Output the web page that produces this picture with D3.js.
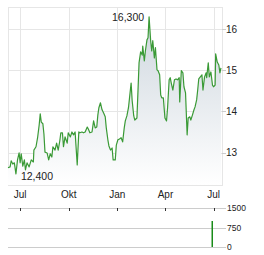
<!DOCTYPE html>
<html>
<head>
<meta charset="utf-8">
<script src="https://cdn.jsdelivr.net/npm/d3@7"></script>
<style>
  body { margin: 0; background: #fff; }
  text { font-family: "Liberation Sans", Arial, sans-serif; fill: #222; }
</style>
</head>
<body>
<div id="chart-area"></div>
<script>
// price series
const dates = [
  "2023-06-08","2023-06-12","2023-06-14","2023-06-17","2023-06-20","2023-06-23","2023-06-26","2023-06-29",
  "2023-07-01","2023-07-03","2023-07-06","2023-07-09","2023-07-11","2023-07-14","2023-07-18","2023-07-22",
  "2023-07-26","2023-07-27","2023-07-31","2023-08-03","2023-08-06","2023-08-08","2023-08-10","2023-08-13",
  "2023-08-15","2023-08-17","2023-08-21","2023-08-24","2023-08-27","2023-08-30","2023-09-01","2023-09-05",
  "2023-09-08","2023-09-11","2023-09-14","2023-09-16","2023-09-19","2023-09-21","2023-09-24","2023-09-28",
  "2023-09-30","2023-10-04","2023-10-07","2023-10-10","2023-10-13","2023-10-17","2023-10-20","2023-10-22",
  "2023-10-26","2023-10-29","2023-11-01","2023-11-05","2023-11-07","2023-11-10","2023-11-14","2023-11-17",
  "2023-11-20","2023-11-23","2023-11-25","2023-11-27","2023-11-30","2023-12-03","2023-12-06","2023-12-09",
  "2023-12-11","2023-12-14","2023-12-16","2023-12-19","2023-12-22","2023-12-24","2023-12-28","2023-12-30",
  "2024-01-02","2024-01-05","2024-01-08","2024-01-11","2024-01-14","2024-01-16","2024-01-19","2024-01-22",
  "2024-01-24","2024-01-27","2024-01-29","2024-02-01","2024-02-03","2024-02-07","2024-02-09","2024-02-11",
  "2024-02-14","2024-02-17","2024-02-18","2024-02-21","2024-02-23","2024-02-26","2024-02-28","2024-03-01",
  "2024-03-04","2024-03-06","2024-03-08","2024-03-11","2024-03-13","2024-03-16","2024-03-18","2024-03-21",
  "2024-03-23","2024-03-25","2024-03-28","2024-03-31","2024-04-03","2024-04-05","2024-04-08","2024-04-10",
  "2024-04-12","2024-04-15","2024-04-18","2024-04-21","2024-04-24","2024-04-27","2024-04-28","2024-05-01",
  "2024-05-04","2024-05-06","2024-05-09","2024-05-12","2024-05-14","2024-05-17","2024-05-19","2024-05-22",
  "2024-05-25","2024-05-27","2024-05-30","2024-06-01","2024-06-03","2024-06-06","2024-06-09","2024-06-11",
  "2024-06-14","2024-06-17","2024-06-18","2024-06-21","2024-06-23","2024-06-26","2024-06-29","2024-07-01",
  "2024-07-04","2024-07-05","2024-07-08","2024-07-11","2024-07-13","2024-07-15"
];
const prices = [
  12.63,12.65,12.80,12.72,12.75,12.48,12.82,12.99,
  12.75,12.97,12.67,12.82,12.58,12.75,12.65,12.82,
  12.77,13.06,13.14,13.36,13.67,13.94,13.74,13.70,
  13.45,13.01,12.99,12.82,12.97,12.89,13.14,13.06,
  13.23,13.06,13.28,13.48,13.48,13.14,13.38,13.23,
  13.48,13.38,13.50,13.43,13.50,12.70,13.50,13.48,
  13.50,13.48,13.50,13.62,13.57,13.48,13.50,13.77,
  13.60,13.62,13.91,14.09,14.21,14.04,13.96,13.87,
  13.60,13.31,13.16,13.06,13.11,12.82,12.82,13.18,
  13.31,13.33,13.36,13.26,13.60,13.77,13.89,14.09,
  14.33,14.69,14.26,13.89,13.79,13.84,14.50,15.18,
  15.45,15.37,15.59,15.23,15.47,15.74,15.79,16.30,
  15.72,15.47,15.72,15.30,15.55,15.01,14.99,14.89,
  14.40,14.33,14.33,13.84,13.77,14.09,14.77,14.82,
  14.69,14.52,14.77,14.79,14.77,14.82,14.23,14.99,
  14.94,14.60,14.45,13.43,13.84,13.87,13.79,13.91,
  14.04,14.11,14.28,14.52,14.79,14.84,14.89,14.52,
  14.84,14.94,14.82,15.18,14.84,14.96,14.64,14.60,
  14.64,15.40,15.20,15.13,14.94,15.06
];
const highLabel = "16,300";
const lowLabel = "12,400";

// volume panel
const volumeDates = ["2024-06-28"];
const volumeValues = [1000];
const volumeTicks = [0, 750, 1500];

// axis ticks
const monthTicks = ["2023-07-01", "2023-10-01", "2024-01-01", "2024-04-01", "2024-07-01"];
const monthLabels = ["Jul", "Okt", "Jan", "Apr", "Jul"];
const priceTicks = [13, 14, 15, 16];

const parse = d3.timeParse("%Y-%m-%d");
const data = dates.map((d, i) => ({ date: parse(d), value: prices[i] }));
const vol = volumeDates.map((d, i) => ({ date: parse(d), value: volumeValues[i] }));

const W = 264, H = 255;
const plot = { left: 8, right: 222, top: 7, bottom: 185 };
const vPlot = { top: 208, bottom: 247 };

const svg = d3.select("#chart-area")
  .append("svg")
  .attr("width", W)
  .attr("height", H);

const x = d3.scaleTime()
  .domain([parse("2023-06-08"), parse("2024-07-17")])
  .range([plot.left, plot.right]);

const y = d3.scaleLinear()
  .domain([12.21, 16.54])
  .range([plot.bottom, plot.top]);

const yv = d3.scaleLinear()
  .domain([0, 1500])
  .range([vPlot.bottom, vPlot.top]);

// gradient for the area
const grad = svg.append("defs").append("linearGradient")
  .attr("id", "areaFill")
  .attr("gradientUnits", "userSpaceOnUse")
  .attr("x1", 0).attr("y1", plot.top)
  .attr("x2", 0).attr("y2", plot.bottom);
grad.append("stop").attr("offset", "0%").attr("stop-color", "#cbd4dc");
grad.append("stop").attr("offset", "100%").attr("stop-color", "#ffffff");

// frame + grid
const grid = svg.append("g");
grid.append("rect")
  .attr("x", plot.left + 0.5)
  .attr("y", plot.top + 0.5)
  .attr("width", plot.right - plot.left)
  .attr("height", plot.bottom - plot.top)
  .attr("fill", "none")
  .attr("stroke", "#e6e6e6");

grid.selectAll(".vgrid")
  .data(monthTicks)
  .enter()
  .append("line")
  .attr("x1", (d) => Math.round(x(parse(d))) + 0.5)
  .attr("x2", (d) => Math.round(x(parse(d))) + 0.5)
  .attr("y1", plot.top)
  .attr("y2", plot.bottom)
  .attr("stroke", "#e6e6e6");

grid.selectAll(".hgrid")
  .data(priceTicks)
  .enter()
  .append("line")
  .attr("x1", plot.left)
  .attr("x2", plot.right)
  .attr("y1", (d) => Math.round(y(d)) + 0.5)
  .attr("y2", (d) => Math.round(y(d)) + 0.5)
  .attr("stroke", "#e6e6e6");

grid.selectAll(".htick")
  .data(priceTicks)
  .enter()
  .append("line")
  .attr("x1", plot.right)
  .attr("x2", plot.right + 4)
  .attr("y1", (d) => Math.round(y(d)) + 0.5)
  .attr("y2", (d) => Math.round(y(d)) + 0.5)
  .attr("stroke", "#cccccc");

// area + line
const area = d3.area()
  .x((d) => x(d.date))
  .y0(plot.bottom)
  .y1((d) => y(d.value));

svg.append("path")
  .datum(data)
  .attr("d", area)
  .attr("fill", "url(#areaFill)");

const line = d3.line()
  .x((d) => x(d.date))
  .y((d) => y(d.value));

svg.append("path")
  .datum(data)
  .attr("d", line)
  .attr("fill", "none")
  .attr("stroke", "#3a9a36")
  .attr("stroke-width", 1.2)
  .attr("stroke-linejoin", "round");

// y labels
svg.selectAll(".ylab")
  .data(priceTicks)
  .enter()
  .append("text")
  .attr("x", 226)
  .attr("y", (d) => y(d) + 3.5)
  .attr("font-size", "10px")
  .text((d) => d);

// x labels
svg.selectAll(".xlab")
  .data(monthTicks)
  .enter()
  .append("text")
  .attr("x", (d) => x(parse(d)))
  .attr("y", 198)
  .attr("font-size", "10px")
  .attr("text-anchor", "middle")
  .text((d, i) => monthLabels[i]);

// high / low annotations
const maxD = data.reduce((a, b) => (b.value > a.value ? b : a));
const minD = data.reduce((a, b) => (b.value < a.value ? b : a));

svg.append("text")
  .attr("x", x(maxD.date) - 5)
  .attr("y", y(maxD.value) + 4)
  .attr("font-size", "10.5px")
  .attr("text-anchor", "end")
  .text(highLabel);

svg.append("text")
  .attr("x", x(minD.date) + 5)
  .attr("y", y(minD.value) + 6.5)
  .attr("font-size", "10.5px")
  .text(lowLabel);

// volume panel
svg.selectAll(".vgridline")
  .data(volumeTicks)
  .enter()
  .append("line")
  .attr("x1", plot.left)
  .attr("x2", plot.right + 4)
  .attr("y1", (d) => Math.round(yv(d)) + 0.5)
  .attr("y2", (d) => Math.round(yv(d)) + 0.5)
  .attr("stroke", "#cccccc");

svg.selectAll(".vmonth")
  .data(monthTicks)
  .enter()
  .append("line")
  .attr("x1", (d) => Math.round(x(parse(d))) + 0.5)
  .attr("x2", (d) => Math.round(x(parse(d))) + 0.5)
  .attr("y1", vPlot.top)
  .attr("y2", vPlot.top + 3)
  .attr("stroke", "#333");

svg.selectAll(".vlab")
  .data(volumeTicks)
  .enter()
  .append("text")
  .attr("x", 227)
  .attr("y", (d) => yv(d) + 3)
  .attr("font-size", "8.5px")
  .text((d) => d);

svg.selectAll(".vbar")
  .data(vol)
  .enter()
  .append("rect")
  .attr("x", (d) => Math.round(x(d.date)) - 0.5)
  .attr("y", (d) => yv(d.value))
  .attr("width", 1.5)
  .attr("height", (d) => vPlot.bottom - yv(d.value))
  .attr("fill", "#1a8c1a");
</script>
</body>
</html>
